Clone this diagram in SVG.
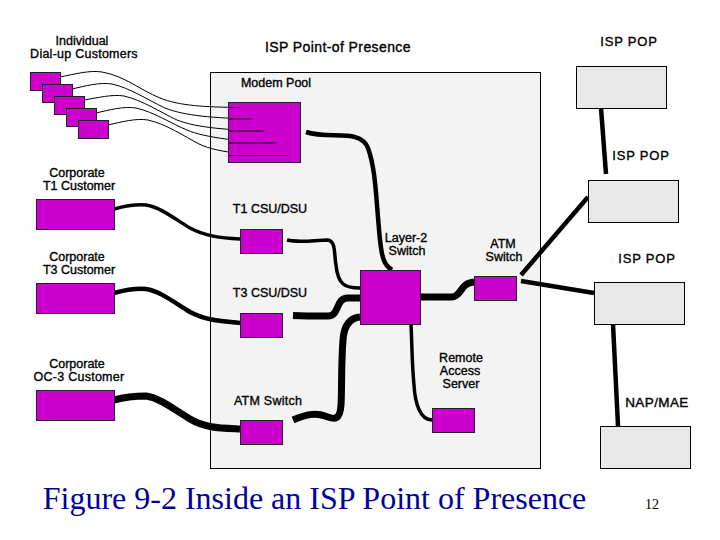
<svg xmlns="http://www.w3.org/2000/svg" width="720" height="540" viewBox="0 0 720 540">
<style>
.t{font-family:"Liberation Sans",Arial,sans-serif;font-size:12.500px;fill:#000;text-anchor:middle;stroke:#000;stroke-width:.35px}
.b{letter-spacing:.25px}
.p{font-size:13px;letter-spacing:.8px}
.m{fill:#cc00cc;stroke:#222;stroke-width:1}
.g{fill:#e8e8e8;stroke:#000;stroke-width:1}
.c{fill:none;stroke:#000;stroke-linecap:butt}
.w1{stroke-width:1}
.w3{stroke-width:3.500}
.w4{stroke-width:4.500}
.w6{stroke-width:7}
</style>
<rect width="720" height="540" fill="#fff"/>
<g id="pop-box"><rect x="210.500" y="72.500" width="330" height="396" fill="#f3f3f3" stroke="#000"/></g>
<g id="connectors">
<path class="c w1" d="M60 77C75 74 90 70 102 72C125 76 140 90 160 98C180 106 205 107 240 107.500"/>
<path class="c w1" d="M72 89C85 86 100 82 112 84C130 88 148 100 165 108C185 116 215 118 252 119"/>
<path class="c w1" d="M84 100C97 98 112 94 124 96C142 100 160 112 177 120C197 128 230 130 264 131"/>
<path class="c w1" d="M96 113C109 110 124 106 136 108C154 112 172 124 187 130C205 138 245 142 276 143"/>
<path class="c w1" d="M108 125C121 122 136 118 148 120C166 124 184 136 199 144C220 154 255 155 288 155.500"/>
<path class="c w3" d="M114 209C125 206 135 204 146 205C160 207 175 219 190 228C205 236 220 238 240 239"/>
<path class="c w4" d="M114 293C125 290 135 288 146 289C160 291 175 303 190 312C205 320 220 321 240 323"/>
<path class="c w6" d="M114 400C125 397 135 396 146 396C160 398 175 410 190 419C205 428 220 428 240 429"/>
<path class="c w3" d="M287 240C300 243 315 240 328 240C336 241 334 255 336 265C338 285 345 288 360 288"/>
<path class="c w6" d="M293 315.500C305 316 320 316 328 316C340 316 335 298 348 298L360 298"/>
<path class="c w6" d="M293 420C305 415 315 412 325 416C335 420 340 420 341 405C342 390 341 365 343 340C344 325 350 318 360 317"/>
<path class="c w4" d="M306 132C330 140 360 128 368 148C376 170 376 200 380 240C382 258 384 265 392 270"/>
<path class="c w3" d="M411 324C412 345 412 365 414 385C415 403 420 420 432 420"/>
<path class="c w6" d="M420 297C430 297 440 297 452 297C462 296 460 283 474 282"/>
<path class="c w4" d="M521 281L594 293"/>
<path class="c w4" d="M521 275L588 197"/>
<path class="c w4" d="M601 108L606 174"/>
<path class="c w4" d="M613 324L618 426"/>
</g>
<g id="dial1"><rect class="m" x="30.500" y="72.500" width="30" height="18"/></g>
<g id="dial2"><rect class="m" x="42.500" y="84.500" width="30" height="18"/></g>
<g id="dial3"><rect class="m" x="54.500" y="96.500" width="30" height="18"/></g>
<g id="dial4"><rect class="m" x="66.500" y="108.500" width="30" height="18"/></g>
<g id="dial5"><rect class="m" x="78.500" y="120.500" width="30" height="18"/></g>
<g id="modem-pool"><rect class="m" x="228.500" y="102.500" width="72" height="60"/></g>
<g id="connectors-in-modem">
<path class="c w1" d="M229 107.500L240 107.500M229 119L252 119M229 131L264 131M229 143L276 143M229 155.500L288 155.500"/>
</g>
<g id="corp-t1"><rect class="m" x="36.500" y="199.500" width="78" height="30"/></g>
<g id="corp-t3"><rect class="m" x="36.500" y="283.500" width="78" height="30"/></g>
<g id="corp-oc3"><rect class="m" x="36.500" y="390.500" width="78" height="30"/></g>
<g id="t1-csu"><rect class="m" x="240.500" y="229.500" width="42" height="24"/></g>
<g id="t3-csu"><rect class="m" x="240.500" y="313.500" width="42" height="24"/></g>
<g id="atm-left"><rect class="m" x="240.500" y="420.500" width="42" height="24"/></g>
<g id="layer2"><rect class="m" x="360.500" y="270.500" width="60" height="54"/></g>
<g id="atm-right"><rect class="m" x="474.500" y="276.500" width="42" height="24"/></g>
<g id="ras"><rect class="m" x="432.500" y="408.500" width="42" height="24"/></g>
<g id="pop1"><rect class="g" x="576.500" y="66.500" width="90" height="42"/></g>
<g id="pop2"><rect class="g" x="588.500" y="180.500" width="90" height="42"/></g>
<g id="pop3"><rect class="g" x="594.500" y="282.500" width="90" height="42"/></g>
<g id="nap"><rect class="g" x="600.500" y="426.500" width="90" height="42"/></g>
<g id="labels">
<text class="t" x="82" y="45">Individual</text>
<text class="t b" x="84" y="58">Dial-up Customers</text>
<text class="t" x="338" y="52" style="font-size:14px;letter-spacing:.4px">ISP Point-of Presence</text>
<text class="t p" x="629" y="46">ISP POP</text>
<text class="t" x="276" y="87">Modem Pool</text>
<text class="t p" x="641" y="160">ISP POP</text>
<text class="t" x="77" y="177">Corporate</text>
<text class="t" x="79" y="190">T1 Customer</text>
<text class="t" x="270" y="213">T1 CSU/DSU</text>
<text class="t" x="406" y="242">Layer-2</text>
<text class="t" x="407" y="255">Switch</text>
<text class="t" x="503" y="248">ATM</text>
<text class="t" x="504" y="261">Switch</text>
<text class="t p" x="647" y="263">ISP POP</text>
<text class="t" x="77" y="261">Corporate</text>
<text class="t" x="79" y="274">T3 Customer</text>
<text class="t" x="270" y="297">T3 CSU/DSU</text>
<text class="t" x="461" y="362">Remote</text>
<text class="t" x="460" y="375">Access</text>
<text class="t" x="461" y="388">Server</text>
<text class="t" x="77" y="368">Corporate</text>
<text class="t b" x="79" y="381">OC-3 Customer</text>
<text class="t b" x="268" y="405">ATM Switch</text>
<text class="t" x="657" y="407" style="font-size:13.500px;letter-spacing:.4px">NAP/MAE</text>
<text x="314.500" y="509" text-anchor="middle" font-family="Liberation Serif,Times New Roman,serif" font-size="32" fill="#00009a">Figure 9-2 Inside an ISP Point of Presence</text>
<text x="652" y="509" text-anchor="middle" font-family="Liberation Serif,Times New Roman,serif" font-size="14" fill="#000">12</text>
</g>
</svg>
